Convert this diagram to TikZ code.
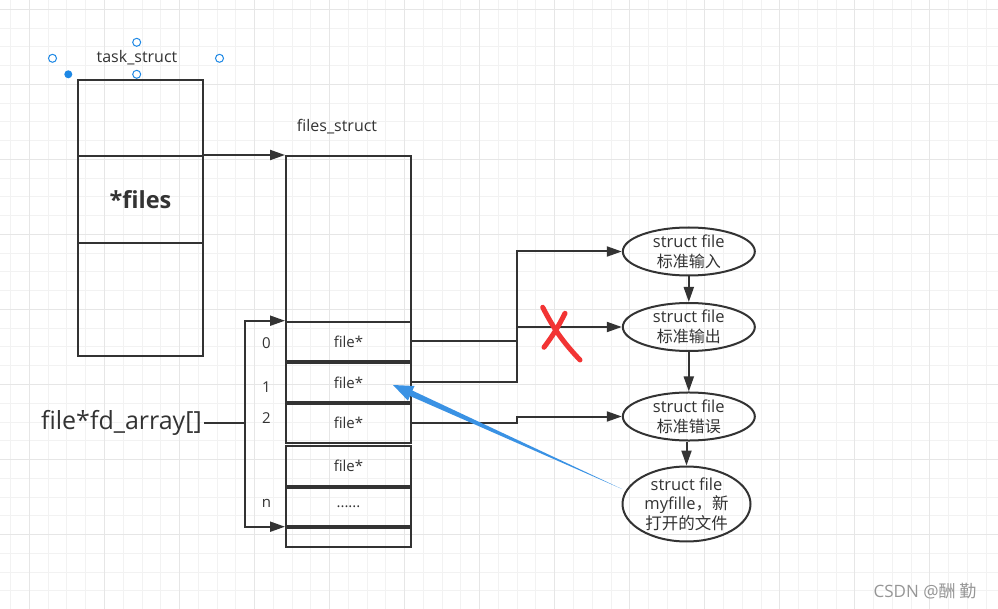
\documentclass[tikz,border=0pt]{standalone}
\usepackage{fontspec}
\setmainfont{Open Sans}
\newfontfamily\cjk{Noto Sans CJK SC}
\usetikzlibrary{arrows.meta,shapes.geometric,calc}
\definecolor{linec}{RGB}{51,51,51}
\definecolor{gridmin}{RGB}{242,242,242}
\definecolor{gridmaj}{RGB}{230,230,230}
\definecolor{handlec}{RGB}{30,136,229}
\definecolor{bluec}{RGB}{58,146,228}
\definecolor{redc}{RGB}{242,52,52}
\definecolor{markc}{RGB}{150,150,150}
\begin{document}
\begin{tikzpicture}[x=1pt, y=-1pt, >={Triangle[length=15pt,width=10pt]},
    box/.style={draw=linec, line width=2pt, minimum width=125pt, inner sep=0pt, text=linec,
                font=\fontsize{15}{18}\selectfont},
    oval/.style={ellipse, draw=linec, line width=2pt, minimum width=132pt, minimum height=48pt,
                 inner sep=0pt, align=center, text=linec, font=\fontsize{16.5}{20}\selectfont},
    conn/.style={draw=linec, line width=2pt, ->},
    handle/.style={circle, draw=handlec, line width=1pt, fill=white, minimum size=8pt, inner sep=0pt},
    lbl/.style={text=linec, font=\fontsize{15}{18}\selectfont}]
    % --- 背景网格 ---
    \useasboundingbox (0,0) rectangle (998,609);
    \fill[white] (0,0) rectangle (998,609);
    \foreach \k in {0,...,52}
        \draw[gridmin, line width=1pt] (10.7+18.76*\k,0) -- (10.7+18.76*\k,609);
    \foreach \k in {0,...,32}
        \draw[gridmin, line width=1pt] (0,9.3+18.76*\k) -- (998,9.3+18.76*\k);
    \foreach \k in {0,...,12}
        \draw[gridmaj, line width=1pt] (29.5+75.04*\k,0) -- (29.5+75.04*\k,609);
    \foreach \k in {0,...,8}
        \draw[gridmaj, line width=1pt] (0,9.3+75.04*\k) -- (998,9.3+75.04*\k);

    % --- task_struct ---
    \node[lbl, font=\fontsize{16}{18}\selectfont] (ts_name) at (137,58) {task\_struct};
    \node[handle] (h_l) at (52.5,58.3) {};
    \node[handle] (h_r) at (219.5,58.3) {};
    \node[handle] (h_t) at (136.7,42.3) {};
    \node[handle] (h_b) at (136.7,74.3) {};
    \node[circle, fill=handlec, minimum size=8pt, inner sep=0pt] (h_rot) at (68.3,74.3) {};
    \node[box, minimum height=76pt] (ts_top) at (140.5,118) {};
    \node[box, minimum height=87pt, font=\fontsize{23.5}{26}\selectfont\bfseries] (files_ptr) at (140.5,199.5) {*files};
    \node[box, minimum height=113pt] (ts_bot) at (140.5,299.5) {};

    % --- files_struct ---
    \node[lbl, font=\fontsize{16}{18}\selectfont] (fs_name) at (337,127) {files\_struct};
    \node[box, minimum height=165.7pt] (fs_top) at (348.5,238.85) {};
    \node[box, minimum height=39.3pt] (fd0) at (348.5,341.35) {file*};
    \node[box, minimum height=38.7pt] (fd1) at (348.5,382.35) {file*};
    \node[box, minimum height=39pt] (fd2) at (348.5,423.2) {file*};
    \node[box, minimum height=40pt] (fd3) at (348.5,465.7) {file*};
    \node[box, minimum height=38pt] (fdn) at (348.5,506.7) {......};
    \node[box, minimum height=19.3pt] (fs_bot) at (348.5,537.35) {};
    \draw[conn] (files_ptr.north east) -- (fs_top.north west);

    % --- 下标 ---
    \node[lbl] (i0) at (266.5,343) {0};
    \node[lbl] (i1) at (266.5,387) {1};
    \node[lbl] (i2) at (266.5,418) {2};
    \node[lbl] (in) at (266.5,503) {n};

    % --- fd_array ---
    \node[anchor=east, inner sep=2pt, text=linec, font=\fontsize{25}{28}\selectfont] (fd_arr) at (204,423) {file*fd\_array[]};
    \coordinate (brk) at (245,423);
    \draw[draw=linec, line width=2pt] (fd_arr.east) -- (brk);
    \draw[conn] (brk) |- (fd0.north west);
    \draw[conn] (brk) |- (fdn.south west);

    % --- struct file ---
    \node[oval] (f_in) at (688.8,251.5) {struct file\\{\cjk\fontsize{16}{20}\selectfont 标准输入}};
    \node[oval] (f_out) at (688.8,327) {struct file\\{\cjk\fontsize{16}{20}\selectfont 标准输出}};
    \node[oval] (f_err) at (688.8,416.5) {struct file\\{\cjk\fontsize{16}{20}\selectfont 标准错误}};
    \node[oval, minimum width=128pt, minimum height=64pt, font=\fontsize{16.5}{19.5}\selectfont] (f_new) at (686.5,504) {struct file\\myfille{\cjk ，新}\\{\cjk 打开的文件}};
    \draw[conn] (f_in.south) -- (f_out.north);
    \draw[conn] (f_out.south) -- (f_err.north);
    \draw[conn] (f_new.north |- f_err.south) -- (f_new.north);

    % --- 连线 ---
    \coordinate (jx) at (517,300);
    \draw[conn] (fd0.east) -- (fd0.east -| jx) |- (f_in.west);
    \draw[conn] (fd1.east) -- (fd1.east -| jx) |- (f_out.west);
    \draw[conn] (fd2.east) -- (fd2.east -| jx) -- (jx |- f_err.west) -- (f_err.west);

    % --- 红叉 ---
    \draw[redc, line width=5pt, line cap=round] (542.7,307.3) to[bend right=8] (580,360);
    \draw[redc, line width=5pt, line cap=round] (565,313.3) to[bend left=5] (544,347.3);

    % --- 蓝色箭头 ---
    \fill[bluec] (393,385) -- (414.5,386) -- (412.4,390.6) -- (622,489) -- (410,396) -- (407.9,400.6) -- cycle;

    % --- 水印 ---
    \node[text=markc, font=\fontsize{17}{20}\selectfont] (mark) at (925,591) {CSDN @{\cjk 酬 勤}};
\end{tikzpicture}
\end{document}
